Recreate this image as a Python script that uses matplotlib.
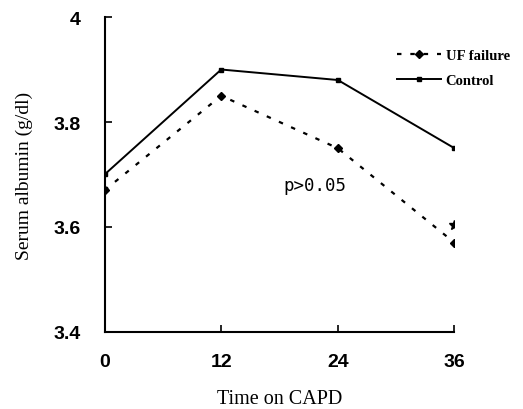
import matplotlib.pyplot as plt

months = [0, 12, 24, 36]
uf_failure = [3.67, 3.85, 3.75, 3.57]
control = [3.70, 3.90, 3.88, 3.75]

fig = plt.figure(figsize=(5.23, 4.10), dpi=100)
ax = fig.add_axes([0.2, 0.188, 0.669, 0.768])

ax.plot(months, uf_failure, color='black', linestyle=(0, (2, 4)), linewidth=1.6,
        marker='D', markersize=4.5, label='UF failure')
ax.plot(months, control, color='black', linestyle='-', linewidth=1.4,
        marker='s', markersize=3.5, label='Control')

# significance marks
ax.text(21.6, 3.68, 'p>0.05', fontsize=12.5, ha='center', va='center', family='DejaVu Sans Mono')
ax.plot([36], [3.603], marker='*', color='black', markersize=7, linestyle='none')

ax.set_xlim(0, 36)
ax.set_ylim(3.4, 4.0)
ax.set_xticks(months)
ax.set_yticks([3.4, 3.6, 3.8, 4.0])
ax.set_yticklabels(['3.4', '3.6', '3.8', '4'])

ax.spines['top'].set_visible(False)
ax.spines['right'].set_visible(False)
ax.spines['left'].set_linewidth(1.5)
ax.spines['bottom'].set_linewidth(1.5)
ax.tick_params(axis='y', direction='in', length=5, width=1.2, labelsize=14, pad=17)
ax.tick_params(axis='x', direction='in', length=5, width=1.2, labelsize=14, pad=15)
for lbl in ax.get_xticklabels() + ax.get_yticklabels():
    lbl.set_fontweight('bold')
    lbl.set_family('Liberation Sans')

ax.set_xlabel('Time on CAPD', fontsize=14.5, family='Liberation Serif', labelpad=14)
ax.set_ylabel('Serum albumin (g/dl)', fontsize=14, family='Liberation Serif', labelpad=15)

leg = ax.legend(loc='upper left', bbox_to_anchor=(0.837, 0.9), frameon=False,
                prop={'family': 'Liberation Serif', 'weight': 'bold', 'size': 10.5},
                handlelength=3.0, handletextpad=0.3, labelspacing=0.85, borderpad=0,
                borderaxespad=0)

plt.savefig('out.png', dpi=100)
